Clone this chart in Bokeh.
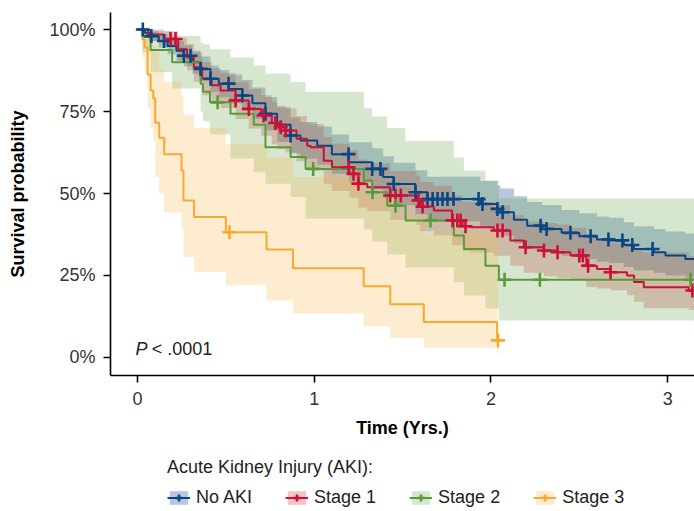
import numpy as np
from bokeh.plotting import figure
from bokeh.layouts import column
from bokeh.models import Range1d, Legend, LegendItem, Label, FixedTicker, NumeralTickFormatter
from bokeh.embed import file_html
from bokeh.resources import INLINE

groups = ["No AKI", "Stage 1", "Stage 2", "Stage 3"]
line_colors = ["#0B4584", "#CC1139", "#5B9A3B", "#F9A92A"]
band_colors = ["#0A4A8E", "#D23A48", "#6DA84C", "#F9B53F"]
band_alphas = [0.3, 0.3, 0.27, 0.25]
follow_up_end = [3.25, 3.25, 3.25, 2.04]

# ---- No AKI ----
no_aki_time = [0, 0.04, 0.077, 0.12, 0.17, 0.22, 0.262, 0.31, 0.357, 0.413, 0.46, 0.517, 0.592, 0.65,
               0.724, 0.79, 0.866, 0.922, 1.017, 1.10, 1.196, 1.328, 1.39, 1.45, 1.573, 1.64, 1.94,
               2.036, 2.054, 2.13, 2.205, 2.29, 2.40, 2.50, 2.60, 2.667, 2.752, 2.809, 2.922, 2.988, 3.10]
no_aki_surv = [1.0, 0.99, 0.98, 0.965, 0.95, 0.935, 0.92, 0.90, 0.88, 0.85, 0.835, 0.819, 0.799, 0.775,
               0.743, 0.71, 0.677, 0.662, 0.646, 0.62, 0.595, 0.575, 0.55, 0.529, 0.504, 0.483, 0.468,
               0.453, 0.443, 0.42, 0.402, 0.392, 0.38, 0.37, 0.36, 0.357, 0.343, 0.331, 0.321, 0.311, 0.30]
no_aki_lower = [1.0, 0.98, 0.965, 0.945, 0.925, 0.905, 0.888, 0.865, 0.842, 0.81, 0.793, 0.775, 0.752, 0.727,
                0.692, 0.657, 0.622, 0.606, 0.588, 0.56, 0.534, 0.512, 0.486, 0.464, 0.437, 0.415, 0.398,
                0.382, 0.371, 0.348, 0.33, 0.319, 0.31, 0.30, 0.292, 0.288, 0.276, 0.266, 0.258, 0.25, 0.245]
no_aki_upper = [1.0, 1.0, 0.995, 0.985, 0.975, 0.965, 0.952, 0.935, 0.918, 0.89, 0.877, 0.863, 0.846, 0.823,
                0.794, 0.763, 0.732, 0.718, 0.704, 0.68, 0.656, 0.638, 0.614, 0.594, 0.571, 0.551, 0.538,
                0.524, 0.515, 0.492, 0.474, 0.465, 0.45, 0.44, 0.43, 0.426, 0.412, 0.40, 0.392, 0.384, 0.378]
no_aki_censor = [0.03, 0.078, 0.15, 0.262, 0.30, 0.357, 0.413, 0.515, 0.593, 0.724, 0.866, 1.194, 1.328,
                 1.375, 1.45, 1.573, 1.641, 1.67, 1.698, 1.726, 1.754, 1.788, 1.93, 1.952, 2.037, 2.066,
                 2.281, 2.315, 2.45, 2.564, 2.665, 2.744, 2.80, 2.915]

# ---- Stage 1 ----
stage1_time = [0, 0.06, 0.149, 0.23, 0.28, 0.319, 0.366, 0.42, 0.47, 0.555, 0.63, 0.70, 0.76, 0.79, 0.838,
               0.90, 0.96, 0.979, 1.054, 1.10, 1.20, 1.25, 1.30, 1.43, 1.58, 1.60, 1.677, 1.78, 1.84, 1.885,
               2.017, 2.11, 2.186, 2.30, 2.375, 2.45, 2.54, 2.60, 2.677, 2.77, 2.81, 2.865, 3.12]
stage1_surv = [1.0, 0.985, 0.971, 0.94, 0.915, 0.885, 0.85, 0.83, 0.814, 0.784, 0.758, 0.738, 0.715, 0.702,
               0.692, 0.667, 0.646, 0.641, 0.60, 0.58, 0.56, 0.53, 0.519, 0.494, 0.479, 0.46, 0.448, 0.418,
               0.40, 0.397, 0.387, 0.357, 0.336, 0.326, 0.321, 0.311, 0.28, 0.27, 0.26, 0.25, 0.23, 0.214, 0.204]
stage1_lower = [1.0, 0.965, 0.945, 0.905, 0.875, 0.84, 0.80, 0.778, 0.76, 0.727, 0.698, 0.676, 0.65, 0.636,
                0.625, 0.598, 0.576, 0.57, 0.528, 0.508, 0.487, 0.457, 0.446, 0.42, 0.404, 0.385, 0.372, 0.342,
                0.324, 0.32, 0.31, 0.28, 0.258, 0.248, 0.242, 0.235, 0.215, 0.21, 0.205, 0.19, 0.17, 0.15, 0.145]
stage1_upper = [1.0, 1.0, 0.995, 0.975, 0.955, 0.93, 0.90, 0.882, 0.868, 0.841, 0.818, 0.80, 0.78, 0.768,
                0.759, 0.736, 0.716, 0.712, 0.672, 0.652, 0.633, 0.603, 0.592, 0.568, 0.554, 0.535, 0.524, 0.494,
                0.476, 0.474, 0.464, 0.434, 0.414, 0.41, 0.405, 0.395, 0.37, 0.36, 0.35, 0.34, 0.33, 0.32, 0.31]
stage1_censor = [0.187, 0.215, 0.555, 0.63, 0.713, 0.78, 0.81, 0.838, 1.194, 1.222, 1.25, 1.43, 1.46, 1.49,
                 1.59, 1.613, 1.783, 1.81, 1.828, 1.856, 2.037, 2.066, 2.196, 2.30, 2.377, 2.50, 2.52, 2.55,
                 2.677, 3.14]

# ---- Stage 2 ----
stage2_time = [0, 0.027, 0.074, 0.196, 0.357, 0.37, 0.41, 0.526, 0.658, 0.724, 0.866, 0.951, 1.281, 1.328,
               1.413, 1.517, 1.79, 1.847, 1.969, 2.045]
stage2_surv = [1.0, 0.977, 0.938, 0.90, 0.835, 0.81, 0.778, 0.743, 0.71, 0.641, 0.611, 0.575, 0.54, 0.504,
               0.463, 0.418, 0.372, 0.331, 0.28, 0.237]
stage2_lower = [1.0, 0.93, 0.87, 0.82, 0.75, 0.72, 0.68, 0.607, 0.565, 0.53, 0.489, 0.424, 0.39, 0.353,
                0.314, 0.274, 0.229, 0.189, 0.149, 0.113]
stage2_upper = [1.0, 1.0, 0.995, 0.98, 0.96, 0.955, 0.94, 0.915, 0.89, 0.865, 0.84, 0.81, 0.76, 0.735,
                0.70, 0.66, 0.61, 0.57, 0.54, 0.485]
stage2_censor = [0.453, 0.994, 1.33, 1.46, 1.658, 2.077, 2.277, 3.13]

# ---- Stage 3 ----
stage3_time = [0, 0.028, 0.04, 0.057, 0.074, 0.089, 0.10, 0.123, 0.151, 0.249, 0.26, 0.32, 0.50, 0.73,
               0.88, 1.28, 1.43, 1.62, 2.035]
stage3_surv = [1.0, 0.97, 0.945, 0.863, 0.814, 0.79, 0.716, 0.67, 0.62, 0.57, 0.479, 0.428, 0.382, 0.329,
               0.272, 0.217, 0.162, 0.108, 0.052]
stage3_lower = [1.0, 0.915, 0.87, 0.76, 0.70, 0.66, 0.55, 0.50, 0.443, 0.393, 0.306, 0.26, 0.22, 0.174,
                0.134, 0.095, 0.06, 0.03, 0.008]
stage3_upper = [1.0, 1.0, 1.0, 0.99, 0.97, 0.95, 0.93, 0.88, 0.84, 0.80, 0.74, 0.70, 0.65, 0.61,
                0.55, 0.49, 0.43, 0.38, 0.33]
stage3_censor = [0.52, 2.04]

series = [
    (no_aki_time, no_aki_surv, no_aki_lower, no_aki_upper, no_aki_censor),
    (stage1_time, stage1_surv, stage1_lower, stage1_upper, stage1_censor),
    (stage2_time, stage2_surv, stage2_lower, stage2_upper, stage2_censor),
    (stage3_time, stage3_surv, stage3_lower, stage3_upper, stage3_censor),
]

FONT = "Liberation Sans"
CROSS_SIZE = 14
CROSS_WIDTH = 2.6

p = figure(width=694, height=451, output_backend="svg", toolbar_location=None,
           x_range=Range1d(-0.153, 3.152), y_range=Range1d(-0.055, 1.052),
           min_border_left=110, min_border_right=0, min_border_top=12, min_border_bottom=76,
           outline_line_color=None, background_fill_color="white")
p.grid.visible = False

for (t, s, lo, up, cen), end, bc, ba in zip(series, follow_up_end, band_colors, band_alphas):
    tx = np.array(t + [end])
    lox = np.array(lo + [lo[-1]])
    upx = np.array(up + [up[-1]])
    p.varea_step(x=tx, y1=lox, y2=upx, step_mode="after", fill_color=bc, fill_alpha=ba)
for (t, s, lo, up, cen), end, lc in zip(series, follow_up_end, line_colors):
    tx = np.array(t + [end])
    sx = np.array(s + [s[-1]])
    p.step(x=tx, y=sx, mode="after", line_color=lc, line_width=2)
for (t, s, lo, up, cen), lc in zip(series, line_colors):
    idx = np.searchsorted(np.array(t), np.array(cen), side="right") - 1
    cy = np.array(s)[idx]
    p.scatter(x=cen, y=cy, marker="cross", size=CROSS_SIZE, line_color=lc, line_width=CROSS_WIDTH)

# axes
for ax in (p.xaxis[0], p.yaxis[0]):
    ax.axis_line_width = 1.6
    ax.axis_line_color = "black"
    ax.major_tick_line_width = 1.6
    ax.major_tick_line_color = "black"
    ax.major_tick_in = 0
    ax.major_tick_out = 7
    ax.minor_tick_line_color = None
    ax.major_label_text_font = FONT
    ax.major_label_text_font_size = "18px"
    ax.major_label_text_color = "#333333"
    ax.axis_label_text_font = FONT
    ax.axis_label_text_font_size = "18px"
    ax.axis_label_text_font_style = "bold"
    ax.axis_label_text_color = "black"

p.xaxis.ticker = FixedTicker(ticks=[0, 1, 2, 3])
p.xaxis.axis_label = "Time (Yrs.)"
p.xaxis.major_label_standoff = 9
p.xaxis.axis_label_standoff = 10
p.yaxis.ticker = FixedTicker(ticks=[0, 0.25, 0.5, 0.75, 1.0])
p.yaxis.formatter = NumeralTickFormatter(format="0%")
p.yaxis.axis_label = "Survival probability"
p.yaxis.major_label_standoff = 8
p.yaxis.axis_label_standoff = 18

p.add_layout(Label(x=-0.012, y=0.027, text="P", text_font=FONT, text_font_size="18px",
                   text_font_style="italic", text_baseline="middle", text_color="#222222"))
p.add_layout(Label(x=0.08, y=0.027, text="< .0001", text_font=FONT, text_font_size="18px",
                   text_baseline="middle", text_color="#222222"))

# legend strip below the plot; proxy renderers sit outside its visible range
q = figure(width=694, height=60, output_backend="svg", toolbar_location=None,
           x_range=Range1d(0, 1), y_range=Range1d(0, 1), min_border=0,
           outline_line_color=None)
q.axis.visible = False
q.grid.visible = False
proxy_x = [-3.0, -2.0]
proxy_y = [-3.0, -3.0]
items = []
for g, lc, bc, ba in zip(groups, line_colors, band_colors, band_alphas):
    rb = q.varea_step(x=proxy_x, y1=proxy_y, y2=[-2.0, -2.0], step_mode="after",
                      fill_color=bc, fill_alpha=ba)
    rl = q.line(x=proxy_x, y=proxy_y, line_color=lc, line_width=2)
    rm = q.scatter(x=proxy_x, y=proxy_y, marker="cross", size=CROSS_SIZE, line_color=lc,
                   line_width=CROSS_WIDTH)
    items.append(LegendItem(label=g, renderers=[rb, rl, rm]))
legend = Legend(items=items, orientation="horizontal", location=(57, 3),
                title="Acute Kidney Injury (AKI):", title_text_font=FONT, title_text_font_size="18px",
                title_text_font_style="normal", title_text_color="#222222", title_standoff=9,
                label_text_font=FONT, label_text_font_size="18px", label_text_color="#222222",
                glyph_width=23, glyph_height=17, label_standoff=6, spacing=33,
                border_line_color=None, background_fill_alpha=0, padding=0, margin=0)
q.add_layout(legend, "center")

layout = column(p, q, spacing=0)
open("out.html", "w").write(file_html(layout, INLINE))
